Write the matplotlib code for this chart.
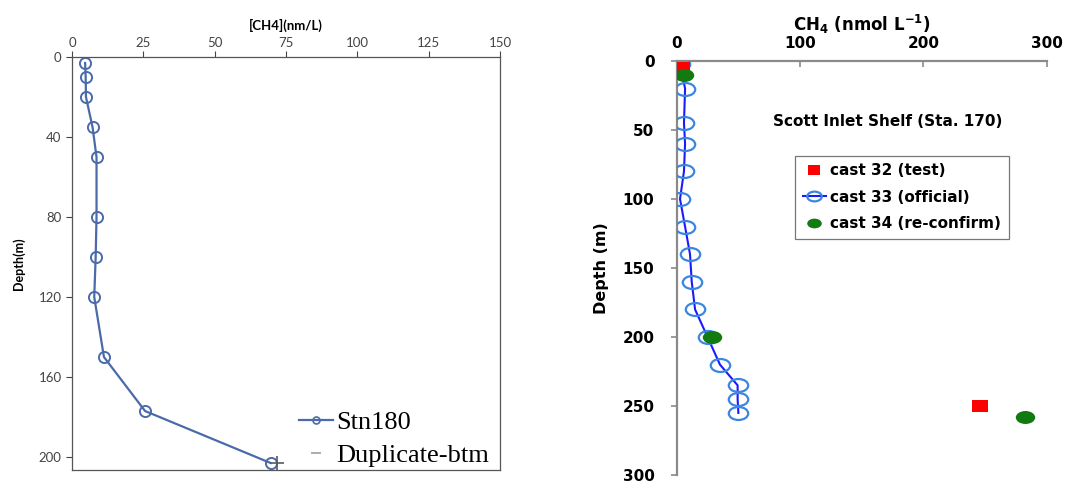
import matplotlib
matplotlib.use("Agg")
import matplotlib.pyplot as plt
from matplotlib.ticker import FixedLocator
from matplotlib.lines import Line2D
from matplotlib.path import Path
from matplotlib.transforms import Affine2D

# Station 180 methane profile
stn180_ch4 = [4.6, 4.8, 4.9, 7.2, 8.6, 8.6, 8.3, 7.8, 11.2, 25.6, 69.6]
stn180_depth = [3, 10, 20, 35, 50, 80, 100, 120, 150, 177, 203]
dup_ch4 = [72.0]
dup_depth = [203]

# Scott Inlet Shelf (Sta. 170) casts
cast32_ch4 = [4.0, 246.0]
cast32_depth = [5, 250]
cast33_ch4 = [2.7, 6.8, 5.9, 6.8, 5.9, 2.7, 6.8, 10.8, 12.2, 14.9, 25.0, 35.1, 49.4, 49.4, 50.0]
cast33_depth = [2, 20, 45, 60, 80, 100, 120, 140, 160, 180, 200, 220, 235, 245, 255]
cast34_ch4 = [5.9, 28.4, 282.0]
cast34_depth = [10, 200, 258]

left_xticks = [0, 25, 50, 75, 100, 125, 150]
left_yticks = [0, 40, 80, 120, 160, 200]
right_xticks = [0, 100, 200, 300]
right_yticks = [0, 50, 100, 150, 200, 250, 300]

# wide (horizontally stretched) marker shapes
wide_circle = Path.unit_circle().transformed(Affine2D().scale(1.5, 1.0))
wide_square = Path([(-1.35, -1), (1.35, -1), (1.35, 1), (-1.35, 1), (-1.35, -1)],
                   [Path.MOVETO, Path.LINETO, Path.LINETO, Path.LINETO,
                    Path.CLOSEPOLY])

fig = plt.figure(figsize=(10.68, 4.84), dpi=100)

# ---- left panel ----
ax1 = fig.add_axes([0.0674, 0.0289, 0.4008, 0.8533])
ax1.plot(stn180_ch4, stn180_depth, color="#4a6aaa", lw=1.6, marker="o",
         ms=8, mfc="none", mec="#4a6aaa", mew=1.4)
ax1.plot(dup_ch4, dup_depth, ls="none", marker="+", ms=10, mew=1.2,
         color="#555a66")
ax1.set_xlim(0, 150)
ax1.set_ylim(206.5, 0)
ax1.xaxis.set_major_locator(FixedLocator(left_xticks))
ax1.yaxis.set_major_locator(FixedLocator(left_yticks))
ax1.xaxis.tick_top()
ax1.xaxis.set_label_position("top")
for sp in ax1.spines.values():
    sp.set_color("#555555")
    sp.set_linewidth(0.9)
ax1.tick_params(axis="both", labelsize=9.5, colors="#444444", length=4,
                width=0.8)
ax1.tick_params(axis="x", pad=2)
for lab in ax1.get_xticklabels() + ax1.get_yticklabels():
    lab.set_family("Lato")
ax1.set_xlabel("[CH4](nm/L)", fontsize=9.5, fontweight="bold",
               family="Lato", labelpad=5)
ax1.set_ylabel("Depth(m)", fontsize=9, fontweight="bold", family="Lato",
               labelpad=10)
left_handles = [
    Line2D([], [], color="#4a6aaa", lw=1.6, marker="o", ms=5, mfc="none",
           mec="#4a6aaa", mew=1.2),
    Line2D([], [], ls="none", marker="_", ms=7, mew=1.2, color="#9a9ea8"),
]
ax1.legend(left_handles, ["Stn180", "Duplicate-btm"], loc="lower right",
           frameon=False, prop={"family": "Liberation Serif", "size": 19},
           handlelength=1.3, handletextpad=0.1, borderaxespad=0.1,
           labelspacing=0.35, bbox_to_anchor=(1.005, -0.025))

# ---- right panel ----
ax2 = fig.add_axes([0.6336, 0.0185, 0.3465, 0.8555])
ax2.plot(cast33_ch4, cast33_depth, color="#1a1aff", lw=1.5, marker=wide_circle,
         ms=14, mfc="none", mec="#3a86e0", mew=1.6, label="cast 33 (official)",
         zorder=3)
ax2.plot(cast32_ch4, cast32_depth, ls="none", marker=wide_square, ms=12,
         mew=0, color="#ff0000", label="cast 32 (test)", zorder=4)
ax2.plot(cast34_ch4, cast34_depth, ls="none", marker=wide_circle, ms=14,
         mew=0, color="#117a11", label="cast 34 (re-confirm)", zorder=5)
ax2.set_xlim(0, 300)
ax2.set_ylim(300, 0)
ax2.xaxis.set_major_locator(FixedLocator(right_xticks))
ax2.yaxis.set_major_locator(FixedLocator(right_yticks))
ax2.xaxis.tick_top()
ax2.xaxis.set_label_position("top")
ax2.spines["right"].set_visible(False)
ax2.spines["bottom"].set_visible(False)
for sp in ("top", "left"):
    ax2.spines[sp].set_color("#8a8a8a")
    ax2.spines[sp].set_linewidth(1.6)
ax2.tick_params(axis="both", labelsize=11, colors="#8a8a8a",
                labelcolor="black", length=4, width=1.2)
ax2.tick_params(axis="x", direction="in", pad=7)
ax2.tick_params(axis="y", pad=12)
for lab in ax2.get_xticklabels() + ax2.get_yticklabels():
    lab.set_fontweight("bold")
ax2.set_xlabel("CH$_\\mathbf{4}$ (nmol L$^{\\mathbf{-1}}$)", fontsize=12,
               fontweight="bold", labelpad=4)
ax2.set_ylabel("Depth (m)", fontsize=11.5, fontweight="bold", labelpad=10)
ax2.text(0.57, 0.855, "Scott Inlet Shelf (Sta. 170)", transform=ax2.transAxes,
         ha="center", va="center", fontsize=11, fontweight="bold")
handles, labels = ax2.get_legend_handles_labels()
order = [1, 0, 2]
leg = ax2.legend([handles[i] for i in order], [labels[i] for i in order],
                 loc="upper left", bbox_to_anchor=(0.3, 0.79),
                 prop={"weight": "bold", "size": 11}, fancybox=False,
                 edgecolor="#555555", handlelength=1.5, handletextpad=0.3,
                 labelspacing=0.75, borderpad=0.5, markerscale=0.75)
leg.get_frame().set_linewidth(0.9)

fig.savefig("out.png", dpi=100)
